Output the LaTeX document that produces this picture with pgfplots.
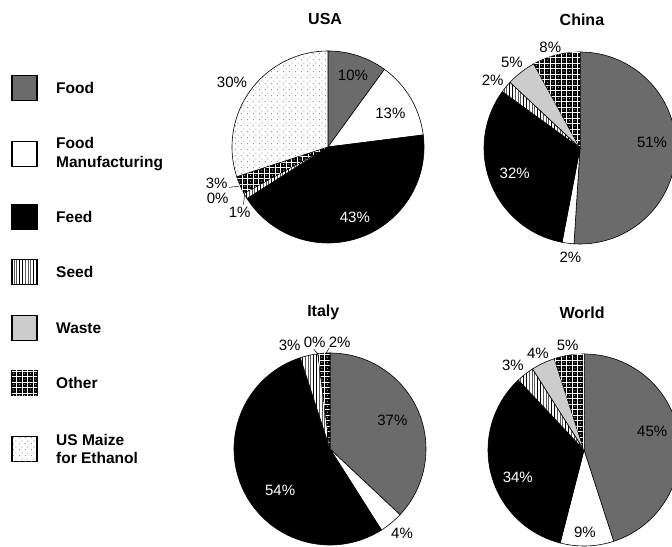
\documentclass[border=0pt]{standalone}
\usepackage{pgfplots}
\pgfplotsset{compat=1.18}
\usepackage{pgfplotstable}
\usepackage{fontspec}
\setmainfont{Liberation Sans}
\usetikzlibrary{patterns}

\definecolor{foodgray}{HTML}{6B6B6B}
\definecolor{wastegray}{HTML}{CCCCCC}

% fill patterns
\pgfdeclarepatternformonly{seedlines}{\pgfpoint{-0.5bp}{0bp}}{\pgfpoint{0.5bp}{3bp}}{\pgfpoint{2.8bp}{3bp}}{%
  \pgfsetlinewidth{0.8bp}\pgfpathmoveto{\pgfpoint{0bp}{0bp}}\pgfpathlineto{\pgfpoint{0bp}{3bp}}\pgfusepath{stroke}}
\pgfdeclarepatternformonly{othergrid}{\pgfpoint{-0.5bp}{-0.5bp}}{\pgfpoint{5bp}{5bp}}{\pgfpoint{5.5bp}{5.5bp}}{%
  \pgfsetlinewidth{0.45bp}%
  \pgfpathmoveto{\pgfpoint{-0.5bp}{0bp}}\pgfpathlineto{\pgfpoint{5bp}{0bp}}%
  \pgfpathmoveto{\pgfpoint{0bp}{-0.5bp}}\pgfpathlineto{\pgfpoint{0bp}{5bp}}\pgfusepath{stroke}%
  \pgfpathcircle{\pgfpoint{2.75bp}{2.75bp}}{0.5bp}\pgfusepath{fill}}
\pgfdeclarepatternformonly{maizedots}{\pgfpoint{0bp}{0bp}}{\pgfpoint{6bp}{6bp}}{\pgfpoint{6bp}{6bp}}{%
  \pgfpathcircle{\pgfpoint{1.5bp}{1.5bp}}{0.6bp}\pgfpathcircle{\pgfpoint{4.5bp}{4.5bp}}{0.6bp}\pgfusepath{fill}}

\tikzset{
  slice0/.style={fill=foodgray},
  slice1/.style={fill=white},
  slice2/.style={fill=black},
  slice3/.style={fill=white, postaction={pattern=seedlines}},
  slice4/.style={fill=wastegray},
  slice5/.style={fill=black, postaction={pattern=othergrid, pattern color=white}},
  slice6/.style={fill=white, postaction={pattern=maizedots, pattern color=black!55}},
}

\newcommand\lab{\fontsize{15bp}{18bp}\selectfont}
\newcommand\ttl{\bfseries\fontsize{16bp}{19bp}\selectfont}
\newcommand\leg{\bfseries\fontsize{15.5bp}{18.5bp}\selectfont}

% shares in percent, clockwise from 12 o'clock
\pgfplotstableread{
cat pct
Food 10
FoodManufacturing 13
Feed 43
Seed 1
Waste 0
Other 3
USMaize 30
}\usadata
\pgfplotstableread{
cat pct
Food 51
FoodManufacturing 2
Feed 32
Seed 2
Waste 5
Other 8
}\chinadata
\pgfplotstableread{
cat pct
Food 37
FoodManufacturing 4
Feed 54
Seed 3
Waste 0
Other 2
}\italydata
\pgfplotstableread{
cat pct
Food 45
FoodManufacturing 9
Feed 34
Seed 3
Waste 4
Other 5
}\worlddata

\newcommand\drawpie[2]{%
  \pgfplotstablegetrowsof{#1}%
  \pgfmathtruncatemacro\lastrow{\pgfplotsretval-1}%
  \def\acc{0}%
  \pgfplotsforeachungrouped \i in {0,...,\lastrow}{%
    \pgfplotstablegetelem{\i}{pct}\of{#1}%
    \let\v=\pgfplotsretval
    \pgfmathsetmacro\sa{90-3.6*\acc}%
    \pgfmathsetmacro\acc{\acc+\v}%
    \pgfmathsetmacro\ea{90-3.6*\acc}%
    \edef\slice{\noexpand\draw[line width=0.6bp,slice\i] (axis cs:0,0) -- ++(\sa:#2) arc[start angle=\sa, end angle=\ea, radius=#2] -- cycle;}%
    \slice
  }%
}

\pgfplotsset{pie/.style={hide axis, scale only axis, width=192bp, height=192bp,
  xmin=-1, xmax=1, ymin=-1, ymax=1, clip=false, anchor=origin}}

\begin{document}
\begin{tikzpicture}[x=1bp, y=1bp]
\useasboundingbox (0,0) rectangle (672,547);
\clip (0,0) rectangle (672,547);

% USA
\begin{axis}[pie, at={(328bp,400bp)}]
\drawpie{\usadata}{96bp}
\node[font=\ttl] at (axis cs:-0.03,1.33) {USA};
\node[font=\lab] at (axis cs:0.26,0.75) {10\%};
\node[font=\lab] at (axis cs:0.65,0.35) {13\%};
\node[font=\lab, text=white] at (axis cs:0.28,-0.73) {43\%};
\node[font=\lab] at (axis cs:-1.0,0.67) {30\%};
\node[font=\lab] at (axis cs:-1.16,-0.375) {3\%};
\node[font=\lab] at (axis cs:-1.15,-0.53) {0\%};
\node[font=\lab] at (axis cs:-0.92,-0.68) {1\%};
\draw[line width=0.5bp] (axis cs:-1.03,-0.42) -- (axis cs:-0.93,-0.41);
\draw[line width=0.5bp] (axis cs:-0.88,-0.6) -- (axis cs:-0.87,-0.5);
\end{axis}

% China
\begin{axis}[pie, at={(580bp,399bp)}]
\drawpie{\chinadata}{96bp}
\node[font=\ttl] at (axis cs:0.02,1.34) {China};
\node[font=\lab] at (axis cs:-0.31,1.05) {8\%};
\node[font=\lab] at (axis cs:-0.71,0.89) {5\%};
\node[font=\lab] at (axis cs:-0.91,0.71) {2\%};
\node[font=\lab] at (axis cs:0.75,0.06) {51\%};
\node[font=\lab, text=white] at (axis cs:-0.68,-0.26) {32\%};
\node[font=\lab] at (axis cs:-0.10,-1.14) {2\%};
\end{axis}

% Italy
\begin{axis}[pie, at={(330bp,98bp)}]
\drawpie{\italydata}{96bp}
\node[font=\ttl] at (axis cs:-0.07,1.42) {Italy};
\node[font=\lab] at (axis cs:0.65,0.30) {37\%};
\node[font=\lab] at (axis cs:0.75,-0.875) {4\%};
\node[font=\lab, text=white] at (axis cs:-0.52,-0.43) {54\%};
\node[font=\lab] at (axis cs:-0.42,1.08) {3\%};
\node[font=\lab] at (axis cs:-0.16,1.11) {0\%};
\node[font=\lab] at (axis cs:0.10,1.11) {2\%};
\draw[line width=0.5bp] (axis cs:-0.17,1.04) -- (axis cs:-0.125,0.99);
\draw[line width=0.5bp] (axis cs:-0.01,1.05) -- (axis cs:-0.04,1.0);
\end{axis}

% World
\begin{axis}[pie, at={(584bp,97bp)}]
\drawpie{\worlddata}{96bp}
\node[font=\ttl] at (axis cs:-0.02,1.43) {World};
\node[font=\lab] at (axis cs:0.71,0.19) {45\%};
\node[font=\lab] at (axis cs:0.01,-0.86) {9\%};
\node[font=\lab, text=white] at (axis cs:-0.69,-0.28) {34\%};
\node[font=\lab] at (axis cs:-0.74,0.885) {3\%};
\node[font=\lab] at (axis cs:-0.48,1.01) {4\%};
\node[font=\lab] at (axis cs:-0.17,1.09) {5\%};
\end{axis}

% legend
\foreach \y/\s/\t in {459/0/Food, 393/1/{Food\\Manufacturing}, 330/2/Feed,
  275/3/Seed, 219/4/Waste, 164/5/Other, 98/6/{US Maize\\for Ethanol}}{
  \draw[line width=1.5bp, slice\s] (12,\y-12.5) rectangle (37,\y+12.5);
  \node[font=\leg, anchor=west, align=left, inner sep=0pt] at (56,\y) {\t};
}
\end{tikzpicture}
\end{document}
